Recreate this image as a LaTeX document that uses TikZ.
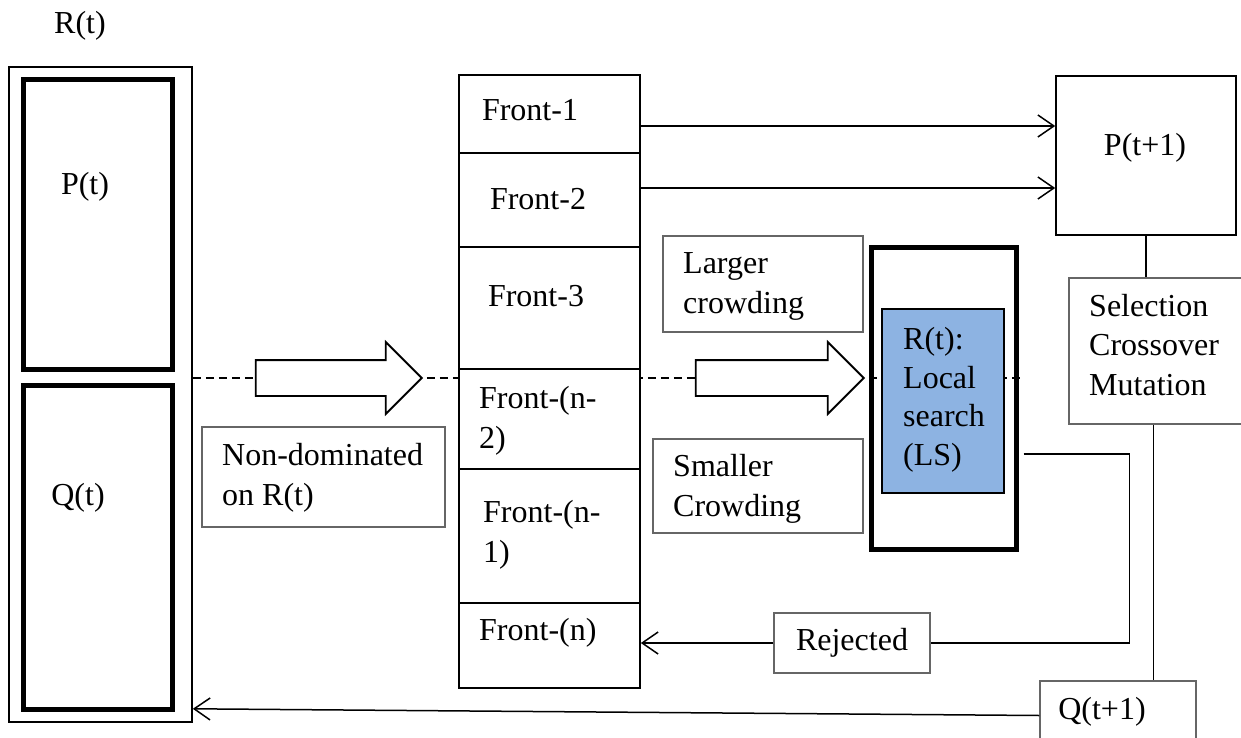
\documentclass[tikz,border=0pt]{standalone}
\usepackage{fontspec}
\setmainfont{Liberation Serif}
\usepackage{xcolor}
\definecolor{lsblue}{HTML}{8DB3E2}
\usetikzlibrary{shapes.arrows, arrows.meta, positioning, backgrounds}

\begin{document}
\begin{tikzpicture}[
    x=1pt, y=-1pt,
    font=\fontsize{32}{40}\selectfont,
    box/.style={rectangle, draw, line width=1.6pt, fill=white, inner sep=0pt},
    thickbox/.style={rectangle, draw, line width=5pt, inner sep=0pt},
    textbox/.style={rectangle, draw=black!60, line width=1.3pt, fill=white, inner sep=0pt},
    txt/.style={inner sep=0pt, align=left},
    bigarrow/.style={single arrow, draw, line width=1.8pt, fill=white, inner xsep=0pt, inner ysep=17pt,
        single arrow head extend=18pt, single arrow tip angle=90, anchor=tip},
    arrow/.style={-{Straight Barb[length=16pt, width=22pt]}, line width=1.5pt},
    link/.style={line width=1.5pt},
    dashline/.style={line width=1.4pt, dash pattern=on 8pt off 5pt}
]
    \useasboundingbox (0,0) rectangle (1241,738);

    % Nodes
    \node[txt] (rlabel) at (80,26) {R(t)};
    \node[box, minimum width=183pt, minimum height=655pt] (rbox) at (100.5,394.5) {};
    \node[thickbox, minimum width=149pt, minimum height=289pt] (pbox) at (97.5,224.5) {};
    \node[thickbox, minimum width=149pt, minimum height=324pt] (qbox) at (97.5,547) {};
    \node[txt] (plabel) at (85,187) {P(t)};
    \node[txt] (qlabel) at (78,498) {Q(t)};

    \node[bigarrow, minimum height=166pt] (arrA) at (423,378) {};
    \node[textbox, minimum width=243pt, minimum height=100pt] (nondom) at (323.5,477) {};
    \node[txt, anchor=west] (nondomtxt) at (222,478) {Non-dominated\\on R(t)};

    \node[box, minimum width=181pt, minimum height=78pt] (f1) at (549.5,114) {};
    \node[box, minimum width=181pt, minimum height=94pt] (f2) at (549.5,200) {};
    \node[box, minimum width=181pt, minimum height=122pt] (f3) at (549.5,308) {};
    \node[box, minimum width=181pt, minimum height=100pt] (fn2) at (549.5,419) {};
    \node[box, minimum width=181pt, minimum height=134pt] (fn1) at (549.5,536) {};
    \node[box, minimum width=181pt, minimum height=85pt] (fn) at (549.5,645.5) {};
    \node[txt] (f1txt) at (530,110) {Front-1};
    \node[txt] (f2txt) at (538,199) {Front-2};
    \node[txt] (f3txt) at (536,296) {Front-3};
    \node[txt, anchor=west] (fn2txt) at (479,421) {Front-(n-\\2)};
    \node[txt, anchor=west] (fn1txt) at (483,535) {Front-(n-\\1)};
    \node[txt, anchor=west] (fntxt) at (479,633) {Front-(n)};

    \node[textbox, minimum width=200pt, minimum height=96pt] (larger) at (763,284) {};
    \node[txt, anchor=west] (largertxt) at (683,286) {Larger\\crowding};
    \node[bigarrow, minimum height=168pt] (arrB) at (865,378) {};
    \node[textbox, minimum width=210pt, minimum height=94pt] (smaller) at (758,486) {};
    \node[txt, anchor=west] (smallertxt) at (673,489) {Smaller\\Crowding};

    \node[thickbox, minimum width=145pt, minimum height=302pt] (lsbox) at (943.5,398) {};
    \node[rectangle, draw, line width=1.3pt, fill=lsblue, minimum width=122pt, minimum height=184pt] (ls) at (943,401) {};
    \node[txt, anchor=west, font=\fontsize{32}{38.5}\selectfont] (lstxt) at (903,400) {R(t):\\Local\\search\\(LS)};

    \node[textbox, minimum width=156pt, minimum height=60pt] (rejected) at (852,643) {Rejected};

    \node[box, minimum width=180pt, minimum height=159pt] (pnext) at (1146,155.5) {};
    \node[txt] (pnexttxt) at (1145,148) {P(t+1)};
    \node[textbox, minimum width=181pt, minimum height=146pt] (sel) at (1159.5,351) {};
    \node[txt, anchor=west, font=\fontsize{32}{39.5}\selectfont] (seltxt) at (1089,345) {Selection\\Crossover\\Mutation};
    \node[textbox, minimum width=156pt, minimum height=69pt] (qnext) at (1118,715.5) {};
    \node[txt] (qnexttxt) at (1102,712) {Q(t+1)};

    % Arrows
    \begin{scope}[on background layer]
        \draw[dashline] (rbox.east |- arrA.tip) -- ([xshift=4pt]lsbox.east |- arrA.tip);
    \end{scope}
    \draw[arrow] ([yshift=-12pt]f1.east) -- ([yshift=-12pt]f1.east -| pnext.west);
    \draw[arrow] ([yshift=12pt]f2.east) -- ([yshift=12pt]f2.east -| pnext.west);
    \draw[link] (pnext.south) -- (pnext.south |- sel.north);
    \draw[link] ([xshift=-6pt]sel.south) -- ([xshift=-6pt]sel.south |- qnext.north);
    \draw[link] ([shift={(5pt,-56pt)}]lsbox.east) -- ++(106,0) |- (rejected.east);
    \draw[arrow] (rejected.west) -- (rejected.west -| fn.east);
    \draw[arrow] (qnext.west) -- ([yshift=14pt]rbox.south east);
\end{tikzpicture}
\end{document}
